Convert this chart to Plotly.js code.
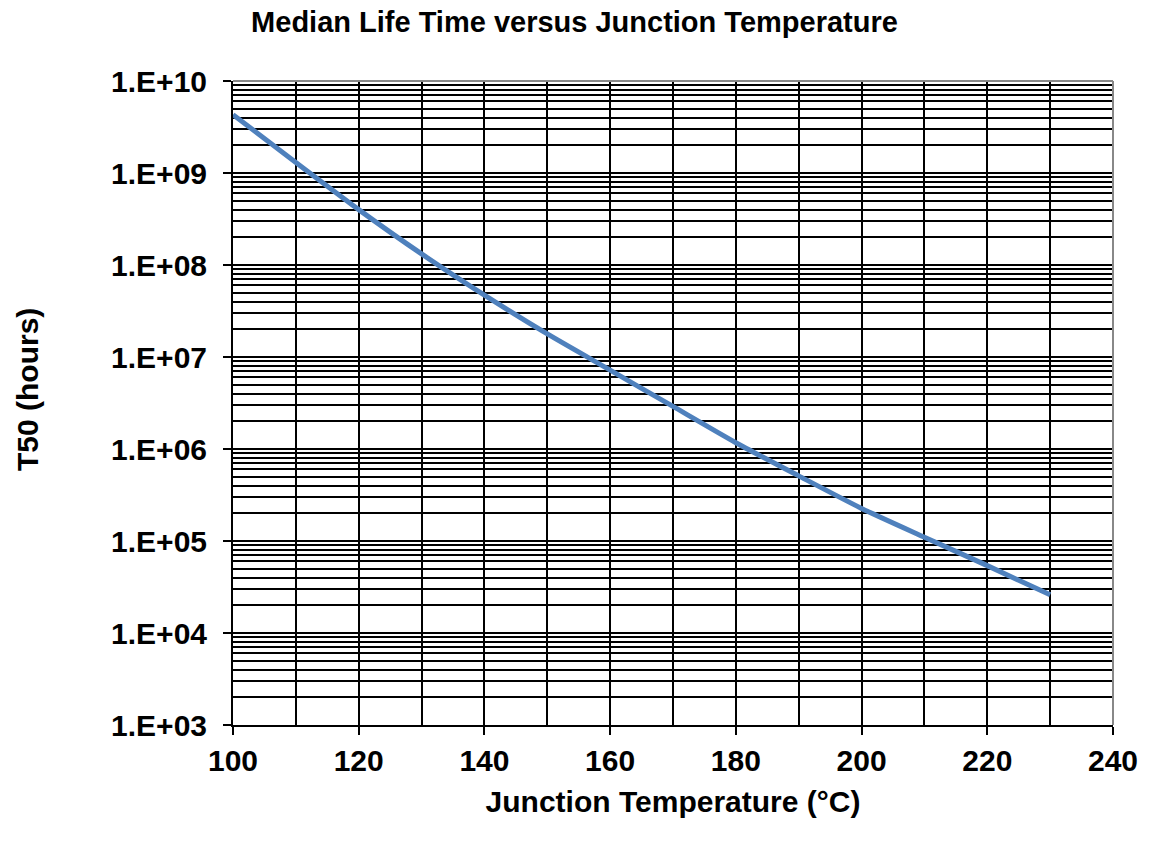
<!DOCTYPE html>
<html><head><meta charset="utf-8">
<script src="https://cdn.plot.ly/plotly-3.0.1.min.js"></script>
<style>html,body{margin:0;padding:0;background:#fff}#chart{width:1149px;height:848px}</style>
</head><body><div id="chart"></div>
<script>
const temperature = [100,110,120,130,140,150,160,170,180,190,200,210,220,230];
const t50Hours = [4.3e9,1.3e9,4.0e8,1.32e8,4.7e7,1.78e7,7.2e6,2.9e6,1.17e6,5.1e5,2.26e5,1.1e5,5.4e4,2.6e4];
const yTickVals = [1e3,1e4,1e5,1e6,1e7,1e8,1e9,1e10];
const yTickText = ['1.E+03','1.E+04','1.E+05','1.E+06','1.E+07','1.E+08','1.E+09','1.E+10'];

const font = 'Liberation Sans, Arial, sans-serif';
const data = [{
  x: temperature, y: t50Hours, type: 'scatter', mode: 'lines',
  line: {color: '#4F81BD', width: 5, shape: 'spline', smoothing: 0.6},
  hoverinfo: 'skip', showlegend: false
}, {
  x: temperature, y: t50Hours, xaxis: 'x2', yaxis: 'y2', type: 'scatter', mode: 'none',
  hoverinfo: 'skip', showlegend: false
}];
const layout = {
  width: 1149, height: 848,
  paper_bgcolor: '#fff', plot_bgcolor: '#fff',
  margin: {l: 233, r: 36, t: 81, b: 123},
  title: {text: '<b>Median Life Time versus Junction Temperature</b>', x: 0.5, xanchor: 'center', xref: 'container',
          y: 1 - 22/848, yanchor: 'middle', yref: 'container',
          font: {family: font, size: 29, color: '#000'}},
  xaxis: {
    range: [100, 240], dtick: 20, tick0: 0,
    showgrid: true, gridcolor: '#000', gridwidth: 2,
    minor: {dtick: 10, showgrid: true, gridcolor: '#000', gridwidth: 2},
    showline: true, linecolor: '#000', linewidth: 2,
    ticks: 'outside', ticklen: 8, tickwidth: 2, tickcolor: '#000',
    tickfont: {family: font, size: 30, color: '#000', weight: 'bold'},
    zeroline: false, automargin: false,
    title: {text: '<b>Junction Temperature (°C)</b>', standoff: 15, font: {family: font, size: 30, color: '#000'}}
  },
  xaxis2: {
    overlaying: 'x', matches: 'x', side: 'bottom', anchor: 'y',
    range: [100, 240], dtick: 20, tick0: 0,
    showgrid: false, showline: false, zeroline: false, showticklabels: false,
    ticks: 'inside', ticklen: 10, tickwidth: 2, tickcolor: '#000'
  },
  yaxis: {
    type: 'log', range: [3, 10],
    tickvals: yTickVals, ticktext: yTickText,
    showgrid: true, gridcolor: '#000', gridwidth: 2,
    minor: {dtick: 'D1', showgrid: true, gridcolor: '#000', gridwidth: 2},
    showline: true, linecolor: '#000', linewidth: 2,
    ticks: 'outside', ticklen: 8, tickwidth: 2, tickcolor: '#000',
    ticklabelstandoff: 10,
    tickfont: {family: font, size: 30, color: '#000', weight: 'bold'},
    zeroline: false, automargin: false
  },
  yaxis2: {
    overlaying: 'y', matches: 'y', side: 'left', anchor: 'x',
    type: 'log', range: [3, 10], tickvals: yTickVals,
    showgrid: false, showline: false, zeroline: false, showticklabels: false,
    ticks: 'inside', ticklen: 10, tickwidth: 2, tickcolor: '#000'
  },
  annotations: [{
    text: '<b>T50 (hours)</b>', textangle: -90, showarrow: false,
    xref: 'paper', yref: 'paper', x: (27 - 233) / (1149 - 233 - 36), y: (725 - 390) / (725 - 81),
    xanchor: 'center', yanchor: 'middle',
    font: {family: font, size: 30, color: '#000'}
  }],
  shapes: [
    {type: 'line', xref: 'paper', yref: 'paper', x0: 0, x1: 1, y0: 1, y1: 1, line: {color: '#888', width: 2}},
    {type: 'line', xref: 'paper', yref: 'paper', x0: 1, x1: 1, y0: 0, y1: 1, line: {color: '#888', width: 2}}
  ]
};
Plotly.newPlot('chart', data, layout, {displayModeBar: false, staticPlot: true});
</script></body></html>
